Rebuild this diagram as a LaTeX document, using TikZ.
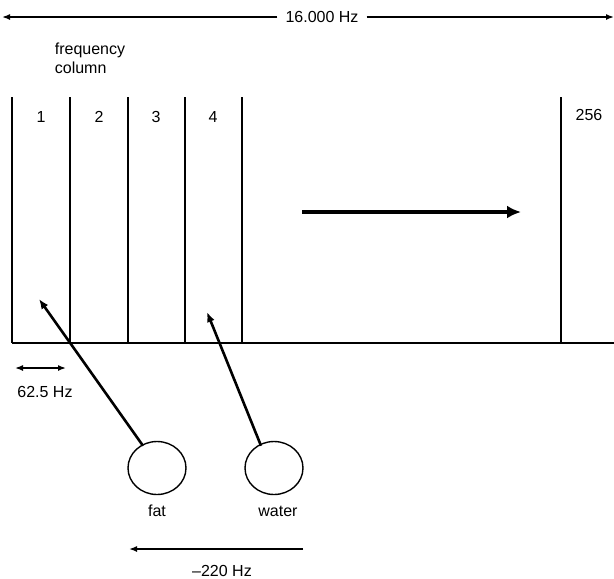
\documentclass[tikz,border=0pt]{standalone}
\usepackage{fontspec}
\setmainfont{Liberation Sans}
\usetikzlibrary{arrows.meta,calc,positioning,shapes.geometric}

\begin{document}
\begin{tikzpicture}[
    x=1pt, y=-1pt,
    font=\fontsize{16}{19}\selectfont,
    col/.style={line width=2.6pt, black},
    arrow/.style={-{Latex[length=10pt,width=8pt]}, line width=2.6pt},
    thin arrow/.style={-{Latex[length=8pt,width=6pt]}, line width=1.5pt},
    spot/.style={draw, line width=1.4pt, ellipse, minimum width=58pt, minimum height=53pt, inner sep=0pt}
]
\useasboundingbox (0,0) rectangle (614,579);

% total bandwidth
\node[inner sep=8pt] (bw) at (322,17) {16.000 Hz};
\coordinate (bwl) at (2,17);
\coordinate (bwr) at (614,17);
\draw[thin arrow] (bw.west) -- (bwl);
\draw[thin arrow] (bw.east) -- (bwr);
\node[align=left] (fc) at (90,58) {frequency\\column};

% frequency columns
\draw[col] (12,343) -- (614,343);
\foreach \x in {12,70,128,185,242,561}
    \draw[col] (\x,97) -- (\x,343);
\foreach \x/\n in {41/1,99/2,156/3,213/4}
    \node (n\n) at (\x,117) {\n};
\node (n256) at (589,115) {256};

\coordinate (sl) at (302,212);
\coordinate (sr) at (521,212);
\draw[-{Latex[length=14pt,width=13pt]}, line width=4.5pt] (sl) -- (sr);

% column width
\coordinate (wl) at (15,368);
\coordinate (wr) at (66,368);
\draw[{Latex[length=8pt,width=6pt]}-{Latex[length=8pt,width=6pt]}, line width=1.5pt] (wl) -- (wr);
\node (cw) at (45,392) {62.5 Hz};

% fat and water
\node[spot] (fat) at (157,468) {};
\node[spot] (water) at (274,468) {};
\node (fatl) at (157,511) {fat};
\node (waterl) at (278,511) {water};
\coordinate (c1) at (39,299);
\coordinate (c4) at (207,312);
\draw[arrow] (fat.north west) ++(7,-3) -- (c1);
\draw[arrow] (water.north west) ++(8,-3) -- (c4);

% chemical shift
\coordinate (shr) at (303,549);
\coordinate (shl) at (129,549);
\draw[thin arrow] (shr) -- (shl);
\node (sh) at (222,571) {--220 Hz};
\end{tikzpicture}
\end{document}
